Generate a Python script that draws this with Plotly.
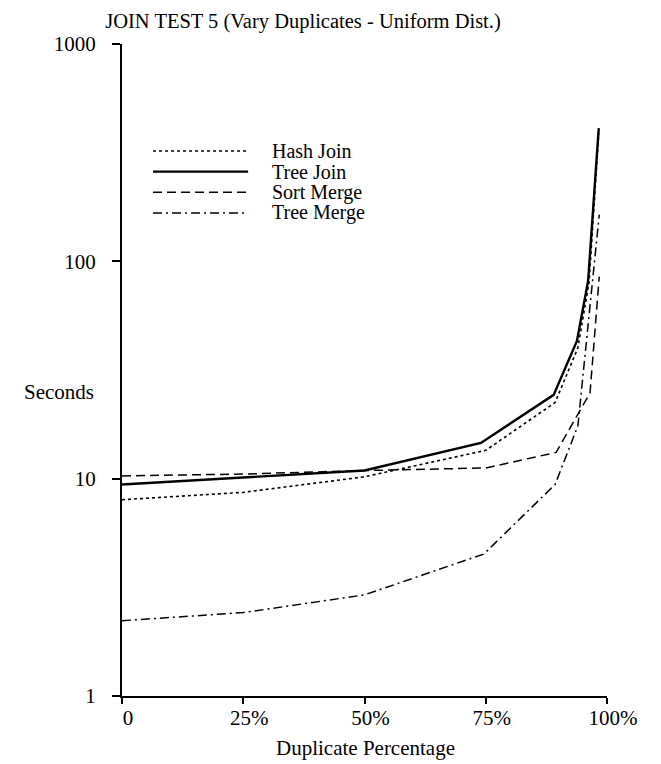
import plotly.graph_objects as go

# Duplicate percentage (x) and seconds (y)
hash_x = [0, 25, 50, 75, 89.3, 94, 96.3, 98.3]
hash_y = [8.0, 8.65, 10.2, 13.5, 22.4, 40, 80, 390]

tree_join_x = [0, 25, 50, 74, 89, 93.8, 96.1, 98.3]
tree_join_y = [9.4, 10.1, 10.9, 14.6, 24.3, 43, 81, 410]

sort_merge_x = [0, 25, 50, 75, 89.5, 96.5, 98.4]
sort_merge_y = [10.3, 10.5, 10.9, 11.2, 13.2, 24.8, 85]

tree_merge_x = [0, 25, 50, 74.6, 89.3, 94, 98.4]
tree_merge_y = [2.22, 2.42, 2.92, 4.5, 9.4, 17.5, 164]

x_ticks = [0, 25, 50, 75, 100]
x_tick_text = ["0", "25%", "50%", "75%", "100%"]
y_ticks = [1, 10, 100, 1000]
y_tick_text = ["1", "10", "100", "1000"]

series = [
    ("Hash Join", hash_x, hash_y, "dot", 1.6),
    ("Tree Join", tree_join_x, tree_join_y, "solid", 2.4),
    ("Sort Merge", sort_merge_x, sort_merge_y, "9px,5px", 1.5),
    ("Tree Merge", tree_merge_x, tree_merge_y, "9px,4px,2px,4px", 1.5),
]

FONT = "Liberation Serif"
FS = 21
# the page body adds an 8px margin around the figure
W, H = 653, 756

fig = go.Figure()
for name, xs, ys, dash, width in series:
    fig.add_trace(go.Scatter(
        x=xs, y=ys, mode="lines", name=name,
        line=dict(color="black", dash=dash, width=width),
        showlegend=False,
    ))

# hand-made legend: long sample lines with the label to the right
legend_top = 0.836
row_step = 0.0317
for i, (name, xs, ys, dash, width) in enumerate(series):
    yy = legend_top - i * row_step
    fig.add_shape(type="line", xref="paper", yref="paper",
                  x0=0.064, x1=0.26, y0=yy, y1=yy,
                  line=dict(color="black", dash=dash, width=width))
    fig.add_annotation(xref="paper", yref="paper", x=0.305, y=yy,
                       text=name, showarrow=False, xanchor="left",
                       yanchor="middle", font=dict(size=20))

fig.add_annotation(xref="paper", yref="paper", x=-0.13, y=0.467,
                   text="Seconds", showarrow=False, xanchor="center",
                   yanchor="middle", font=dict(size=FS))
fig.add_annotation(xref="paper", yref="paper", x=0.503, y=-0.08,
                   text="Duplicate Percentage", showarrow=False,
                   xanchor="center", yanchor="middle", font=dict(size=FS))

fig.update_layout(
    width=W, height=H,
    margin=dict(l=114, r=54, t=36, b=68),
    paper_bgcolor="white", plot_bgcolor="white",
    font=dict(family=FONT, size=FS, color="black"),
    title=dict(text="JOIN TEST 5 (Vary Duplicates - Uniform Dist.)",
               x=(303 - 8) / W, xanchor="center", y=1 - 13 / H,
               yanchor="middle", font=dict(size=20.5)),
    xaxis=dict(range=[0, 100], tickvals=x_ticks, ticktext=x_tick_text,
               showgrid=False, zeroline=False, showline=True,
               linecolor="black", linewidth=2, ticks="outside",
               ticklen=6, tickwidth=1.5, tickcolor="black",
               ticklabelstandoff=-4, ticklabelshift=6),
    yaxis=dict(type="log", range=[0, 3], tickvals=y_ticks,
               ticktext=y_tick_text, showgrid=False, zeroline=False,
               showline=True, linecolor="black", linewidth=2,
               ticks="outside", ticklen=8, tickwidth=1.5,
               tickcolor="black", ticklabelstandoff=12),
)

fig.write_html("out.html")
